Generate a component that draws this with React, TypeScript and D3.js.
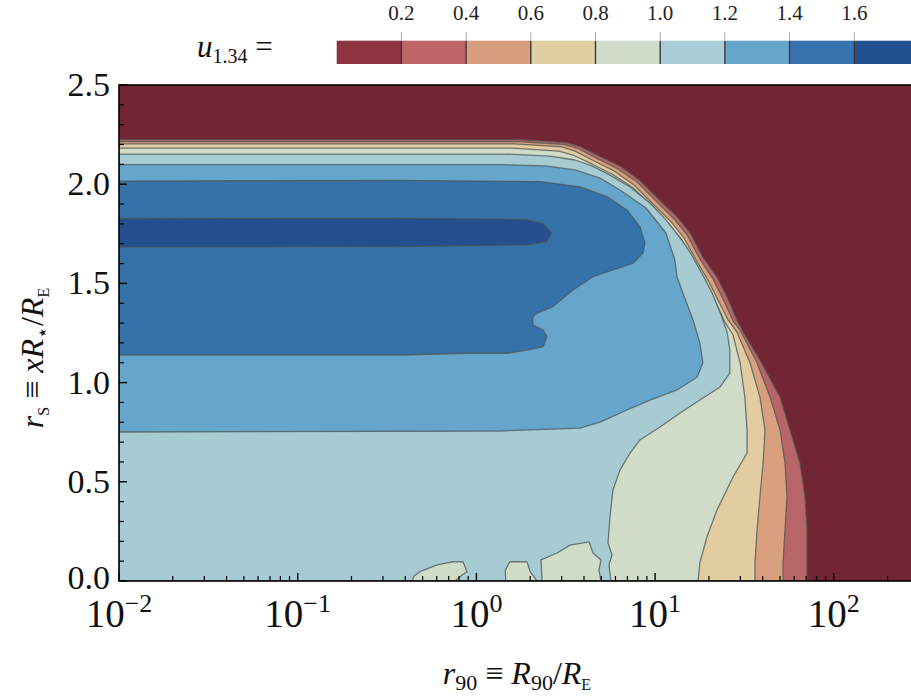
import React, { useEffect } from 'react';
import * as d3 from 'd3';

type P = [number, number];

// ---- data (r90, rS) ----
const levels = [0, 0.2, 0.4, 0.6, 0.8, 1.0, 1.2, 1.4, 1.6, 1.8];
const colorbarTicks = [0.2, 0.4, 0.6, 0.8, 1.0, 1.2, 1.4, 1.6];
const xTickExps = [-2, -1, 0, 1, 2];
const yTicks = [0, 0.5, 1.0, 1.5, 2.0, 2.5];

const contour02: P[] = [
  [0.01, 2.225], [1.75, 2.225], [3.2, 2.21], [3.8, 2.19], [4.9, 2.14], [6.4, 2.09], [8.2, 2.02],
  [10.6, 1.92], [13.3, 1.835], [15.7, 1.755], [18.5, 1.633], [22.2, 1.532], [25.3, 1.431],
  [28.7, 1.316], [31.8, 1.24], [38.6, 1.114], [50, 0.927], [56.9, 0.761], [64.7, 0.595],
  [69, 0.423], [70.8, 0.257], [70.8, 0.091], [70.8, 0],
];
const contour04: P[] = [
  [0.01, 2.215], [1.71, 2.215], [3.13, 2.2], [3.7, 2.18], [4.73, 2.13], [6.12, 2.079], [7.92, 2.011],
  [10.25, 1.91], [12.76, 1.825], [15.1, 1.744], [17.8, 1.623], [21.1, 1.522], [24.0, 1.421],
  [27.3, 1.31], [29.9, 1.265], [37.2, 1.099], [44, 0.927], [50, 0.761], [53.3, 0.595],
  [54.7, 0.423], [53.3, 0.257], [52, 0.091], [52, 0],
];
const contour06: P[] = [
  [0.01, 2.203], [1.64, 2.203], [3.01, 2.188], [3.56, 2.167], [4.55, 2.117], [5.89, 2.067], [7.62, 1.996],
  [9.86, 1.895], [12.3, 1.81], [14.5, 1.729], [17.2, 1.608], [20.0, 1.507], [22.8, 1.406],
  [25.6, 1.316], [28.7, 1.255], [34.0, 1.099], [38.6, 0.927], [41.2, 0.761], [40.2, 0.595],
  [38.6, 0.423], [37.2, 0.257], [36.2, 0.091], [36.2, 0],
];
const contour08: P[] = [
  [0.01, 2.182], [1.58, 2.182], [2.9, 2.167], [3.47, 2.147], [4.43, 2.102], [5.74, 2.051], [7.43, 1.986],
  [9.61, 1.89], [11.8, 1.804], [14.1, 1.719], [16.5, 1.608], [19.3, 1.502], [21.9, 1.401],
  [24.6, 1.305], [27.3, 1.24], [29.9, 1.099], [31.8, 0.927], [32.7, 0.761], [32.7, 0.645],
  [27.3, 0.524], [22.2, 0.358], [19.5, 0.222], [17.8, 0.091], [17.4, 0],
];
const contour10: P[] = [
  [0.01, 2.152], [1.45, 2.152], [2.58, 2.142], [3.56, 2.122], [4.43, 2.092], [5.59, 2.046], [7.24, 1.986],
  [9.36, 1.905], [11.5, 1.82], [13.8, 1.729], [15.67, 1.658], [18.5, 1.542], [21.1, 1.442],
  [23.4, 1.341], [25.3, 1.255], [26.2, 1.164], [26.2, 1.048], [23.1, 0.978], [17.8, 0.912],
  [13.8, 0.847], [10.65, 0.776], [8.23, 0.711], [7.24, 0.645], [6.36, 0.559], [5.81, 0.459],
  [5.59, 0.323], [5.45, 0.192], [5.74, 0.131], [5.52, 0.081], [5.66, 0],
  [4.98, 0], [4.85, 0.055], [4.98, 0.106], [4.49, 0.141], [4.27, 0.197], [3.34, 0.181],
  [2.83, 0.141], [2.3, 0.106], [2.33, 0],
];
const blobA: P[] = [
  [0.436, 0], [0.448, 0.025], [0.483, 0.047], [0.602, 0.081], [0.74, 0.097], [0.841, 0.097],
  [0.886, 0.047], [0.831, 0.03], [0.759, 0],
];
const blobB: P[] = [
  [1.46, 0], [1.45, 0.055], [1.54, 0.097], [1.92, 0.097], [2.0, 0.047], [2.18, 0],
];
const contour12: P[] = [
  [0.01, 2.099], [1.355, 2.099], [2.42, 2.092], [3.56, 2.072], [4.92, 2.031], [6.36, 1.971],
  [8.89, 1.88], [11.5, 1.754], [12.9, 1.618], [13.27, 1.532], [14.3, 1.452], [16.3, 1.316],
  [17.8, 1.2], [18.5, 1.099], [17.2, 1.028], [13.27, 0.963], [9.36, 0.912], [6.96, 0.862],
  [4.92, 0.801], [3.8, 0.771], [1.355, 0.756], [0.01, 0.751],
];
const contour14: P[] = [
  [0.01, 2.016], [0.374, 2.019], [2.27, 2.013], [3.8, 1.987], [5.38, 1.937], [6.96, 1.87],
  [8.23, 1.786], [8.78, 1.704], [8.55, 1.653], [7.52, 1.601], [5.81, 1.568], [4.49, 1.534],
  [3.47, 1.467], [2.68, 1.383], [2.18, 1.349], [2.07, 1.332], [2.07, 1.29], [2.36, 1.265],
  [2.48, 1.231], [2.36, 1.181], [1.92, 1.164], [1.48, 1.148], [0.886, 1.148], [0.374, 1.139],
  [0.01, 1.139],
];
const contour16: P[] = [
  [0.01, 1.827], [0.374, 1.828], [1.355, 1.825], [1.92, 1.82], [2.36, 1.803], [2.64, 1.754],
  [2.48, 1.71], [1.92, 1.694], [0.374, 1.685], [0.01, 1.683],
];

// ---- style ----
const fillColors = ['#722533', '#b86567', '#d9a07f', '#e2cda2', '#d0dbc8', '#a6cbd3', '#67a6cc', '#3672aa', '#244f8f'];
const barColors = ['#8d3341', '#bf6467', '#d69d7e', '#e0cfa3', '#d0dcc9', '#a9cdd7', '#66a6cd', '#3774ad', '#22508f'];
const FONT = '"Liberation Serif", "DejaVu Serif", serif';

export default function App() {
  useEffect(() => {
    document.body.style.margin = '0';
  }, []);

  const W = 911, H = 697;
  const left = 119, top = 85, bottom = 581;
  const decade = 178.7;
  const xMax = 316.2;
  const x = d3.scaleLog().domain([0.01, xMax]).range([left, left + decade * Math.log10(xMax / 0.01)]);
  const y = d3.scaleLinear().domain([0, 2.5]).range([bottom, top]);
  const right = x(xMax);

  const path = d3.line<P>().x(d => x(d[0])).y(d => y(d[1])).curve(d3.curveLinearClosed);
  const corner: P = [0.01, 0];

  const layers: { pts: P[]; c: number }[] = [
    { pts: [...contour02, corner], c: 1 },
    { pts: [...contour04, corner], c: 2 },
    { pts: [...contour06, corner], c: 3 },
    { pts: [...contour08, corner], c: 4 },
    { pts: [...contour10, corner], c: 5 },
    { pts: blobA, c: 4 },
    { pts: blobB, c: 4 },
    { pts: contour12, c: 6 },
    { pts: contour14, c: 7 },
    { pts: contour16, c: 8 },
  ];

  const minorX: number[] = [];
  for (let e = -2; e <= 2; e++) for (let m = 2; m <= 9; m++) {
    const v = m * Math.pow(10, e);
    if (v <= xMax) minorX.push(v);
  }
  const minorY = d3.range(0, 2.5001, 0.1).filter(v => Math.abs(v * 2 - Math.round(v * 2)) > 1e-6);

  const cb = d3.scaleLinear().domain([0, 1.8]).range([336.7, 919]);
  const cbTop = 40.7, cbBot = 64;

  return (
    <svg width={W} height={H} style={{ display: 'block', background: '#fff' }}>
      <defs>
        <clipPath id="plotclip">
          <rect x={left} y={top} width={right - left} height={bottom - top} />
        </clipPath>
      </defs>
      <g clipPath="url(#plotclip)">
        <rect x={left} y={top} width={right - left} height={bottom - top} fill={fillColors[0]} />
        {layers.map((l, i) => (
          <path key={i} d={path(l.pts) || ''} fill={fillColors[l.c]} stroke="#4b5653" strokeOpacity={0.75} strokeWidth={1.3} strokeLinejoin="round" />
        ))}
      </g>
      {/* frame */}
      <rect x={left} y={top} width={right - left} height={bottom - top} fill="none" stroke="#000" strokeWidth={1.6} />
      {/* y ticks */}
      {yTicks.map(v => (
        <line key={'ym' + v} x1={left} x2={left + 8} y1={y(v)} y2={y(v)} stroke="#000" strokeWidth={1.4} />
      ))}
      {minorY.map(v => (
        <line key={'yn' + v} x1={left} x2={left + 5} y1={y(v)} y2={y(v)} stroke="#000" strokeWidth={1.2} />
      ))}
      {/* x ticks */}
      {xTickExps.map(e => (
        <line key={'xm' + e} x1={x(Math.pow(10, e))} x2={x(Math.pow(10, e))} y1={bottom} y2={bottom - 8} stroke="#000" strokeWidth={1.4} />
      ))}
      {minorX.map(v => (
        <line key={'xn' + v} x1={x(v)} x2={x(v)} y1={bottom} y2={bottom - 5} stroke="#000" strokeWidth={1.2} />
      ))}
      {/* y tick labels */}
      {yTicks.map(v => (
        <text key={'yl' + v} x={110} y={y(v) + (v === 0 ? 8 : 11)} textAnchor="end" fontFamily={FONT} fontSize={34} fill="#111">
          {v.toFixed(1)}
        </text>
      ))}
      {/* x tick labels */}
      {xTickExps.map(e => (
        <text key={'xl' + e} x={x(Math.pow(10, e))} y={627} textAnchor="middle" fontFamily={FONT} fontSize={39} fill="#111">
          10
          <tspan dy={-15} fontSize={26}>{e < 0 ? '\u2212' + Math.abs(e) : String(e)}</tspan>
        </text>
      ))}
      {/* axis titles */}
      <text x={517} y={684} textAnchor="middle" fontFamily={FONT} fontSize={32} fill="#111">
        <tspan fontStyle="italic">r</tspan>
        <tspan dy={6} fontSize={22}>90</tspan>
        <tspan dy={-6}> ≡ </tspan>
        <tspan fontStyle="italic">R</tspan>
        <tspan dy={6} fontSize={22}>90</tspan>
        <tspan dy={-6}>/</tspan>
        <tspan fontStyle="italic">R</tspan>
        <tspan dy={6} fontSize={16}>E</tspan>
      </text>
      <text transform="translate(43,358) rotate(-90)" textAnchor="middle" fontFamily={FONT} fontSize={32} fill="#111">
        <tspan fontStyle="italic">r</tspan>
        <tspan dy={6} fontSize={16}>S</tspan>
        <tspan dy={-6}> ≡ </tspan>
        <tspan fontStyle="italic">xR</tspan>
        <tspan dy={6} fontSize={20}>⋆</tspan>
        <tspan dy={-6}>/</tspan>
        <tspan fontStyle="italic">R</tspan>
        <tspan dy={6} fontSize={16}>E</tspan>
      </text>
      {/* colorbar */}
      {levels.slice(0, -1).map((lv, i) => (
        <rect key={'cb' + i} x={cb(lv)} y={cbTop} width={cb(levels[i + 1]) - cb(lv)} height={cbBot - cbTop} fill={barColors[i]} />
      ))}
      {colorbarTicks.map(t => (
        <g key={'cbt' + t}>
          <line x1={cb(t)} x2={cb(t)} y1={cbTop} y2={cbBot} stroke="#3a3a3a" strokeWidth={1.4} />
          <line x1={cb(t)} x2={cb(t)} y1={32} y2={cbTop} stroke="#aaa" strokeWidth={1} />
          <text x={cb(t)} y={20} textAnchor="middle" fontFamily={FONT} fontSize={21} fill="#222">{t.toFixed(1)}</text>
        </g>
      ))}
      <text x={197} y={57} fontFamily={FONT} fontSize={31} fill="#111">
        <tspan fontStyle="italic">u</tspan>
        <tspan dy={6} fontSize={20}>1.34</tspan>
        <tspan dy={-6}> =</tspan>
      </text>
    </svg>
  );
}
